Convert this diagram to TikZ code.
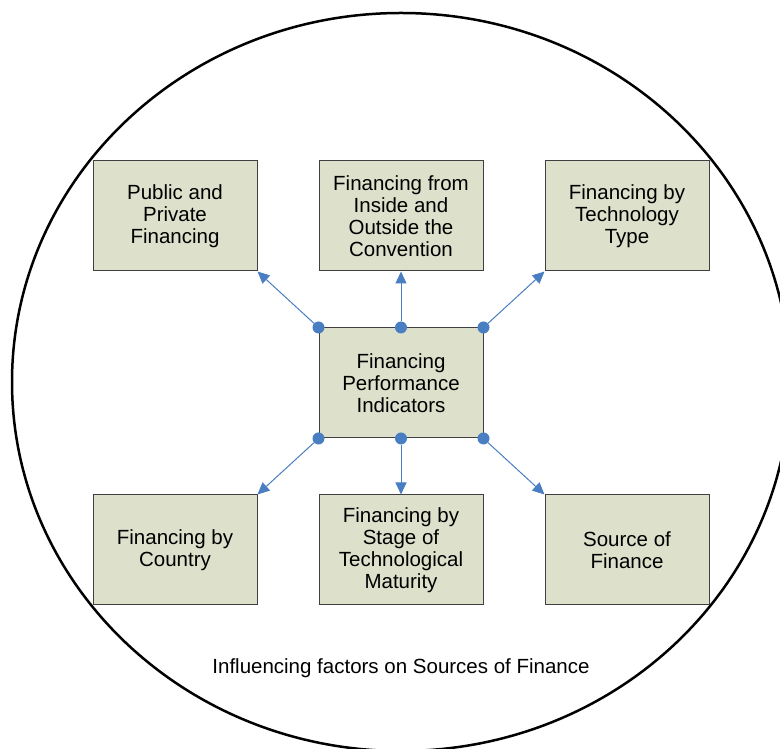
\documentclass[tikz,border=0pt]{standalone}
\usepackage{fontspec}
\setmainfont{Liberation Sans}
\usepackage{xcolor}
\usepackage{tikz}
\usetikzlibrary{arrows.meta, positioning}
\definecolor{boxfill}{HTML}{DDE0CB}
\definecolor{linkblue}{HTML}{4A7EC2}
\tikzstyle{factor} = [rectangle, minimum width=164pt, minimum height=110pt, align=center, draw=black!75, line width=1pt, fill=boxfill, font=\fontsize{20.5}{22}\selectfont]
\tikzstyle{dot} = [circle, fill=linkblue, inner sep=0pt, minimum size=12pt]
\tikzstyle{arrow} = [linkblue, line width=1pt, -{Triangle[length=12pt,width=11pt]}]

\begin{document}
\begin{tikzpicture}[x=1pt, y=1pt, node distance=56pt and 61pt]
\useasboundingbox (0,0) rectangle (780,749);
\draw [line width=2.5pt] (401,367) ellipse [x radius=389, y radius=369];

\node (perf) [factor] at (401,366) {Financing\\Performance\\Indicators};
\node (convention) [factor, above=of perf] {Financing from\\Inside and\\Outside the\\Convention};
\node (public) [factor, left=of convention] {Public and\\Private\\Financing};
\node (techtype) [factor, right=of convention] {Financing by\\Technology\\Type};
\node (stage) [factor, below=of perf] {Financing by\\Stage of\\Technological\\Maturity};
\node (country) [factor, left=of stage] {Financing by\\Country};
\node (source) [factor, right=of stage] {Source of\\Finance};

\node (caption) [font=\fontsize{20.5}{22}\selectfont] at (401,81) {Influencing factors on Sources of Finance};

% connection points on the centre box
\node (dnw) [dot] at (perf.north west) {};
\node (dn) [dot] at (perf.north) {};
\node (dne) [dot] at (perf.north east) {};
\node (dsw) [dot] at (perf.south west) {};
\node (ds) [dot] at (perf.south) {};
\node (dse) [dot] at (perf.south east) {};

\draw [arrow] (dnw) -- (public.south east);
\draw [arrow] (dn) -- (convention.south);
\draw [arrow] (dne) -- (techtype.south west);
\draw [arrow] (dsw) -- (country.north east);
\draw [arrow] (ds) -- (stage.north);
\draw [arrow] (dse) -- (source.north west);

\end{tikzpicture}
\end{document}
